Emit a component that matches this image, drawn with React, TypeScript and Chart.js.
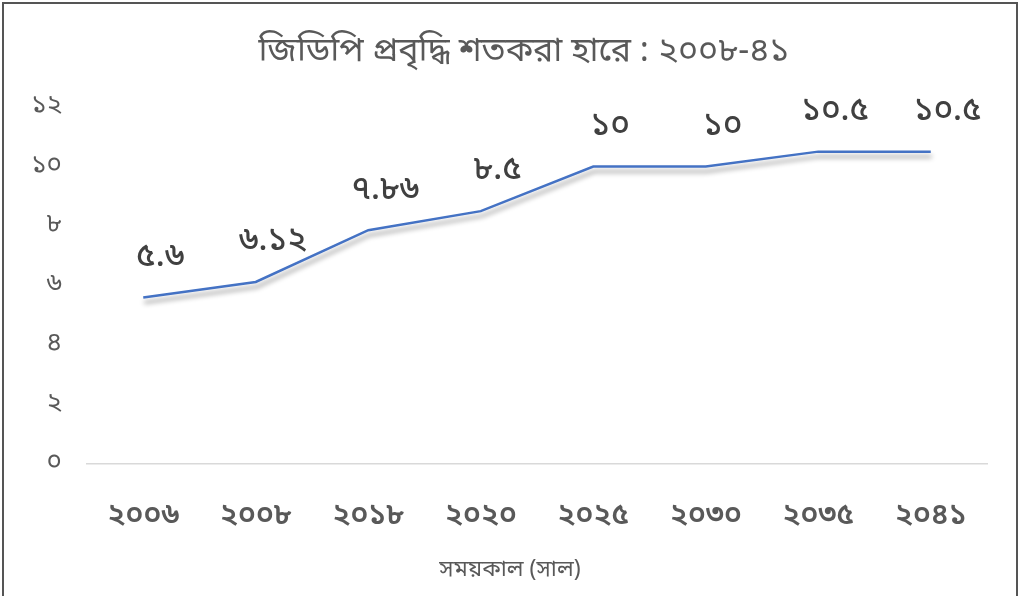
import React, { useEffect, useRef } from "react";
import { Chart, registerables } from "chart.js";

Chart.register(...registerables);

const titleText = "জিডিপি প্রবৃদ্ধি শতকরা হারে : ২০০৮-৪১";
const xAxisTitle = "সময়কাল (সাল)";
const categories = ["২০০৬", "২০০৮", "২০১৮", "২০২০", "২০২৫", "২০৩০", "২০৩৫", "২০৪১"];
const growth = [5.6, 6.12, 7.86, 8.5, 10, 10, 10.5, 10.5];
const valueLabels = ["৫.৬", "৬.১২", "৭.৮৬", "৮.৫", "১০", "১০", "১০.৫", "১০.৫"];
const yTickLabels = ["০", "২", "৪", "৬", "৮", "১০", "১২"];

const FONT = '"Noto Sans Bengali", "Noto Serif Bengali", "Lohit Bengali", "Noto Sans", sans-serif';

const shadowPlugin = {
  id: "lineShadow",
  beforeDatasetDraw(chart: any) {
    const ctx = chart.ctx;
    ctx.save();
    ctx.shadowColor = "rgba(0,0,0,0.4)";
    ctx.shadowBlur = 5;
    ctx.shadowOffsetX = 1;
    ctx.shadowOffsetY = 5;
  },
  afterDatasetDraw(chart: any) {
    chart.ctx.restore();
  },
};

const labelPlugin = {
  id: "valueLabels",
  afterDatasetsDraw(chart: any) {
    const ctx = chart.ctx;
    const meta = chart.getDatasetMeta(0);
    ctx.save();
    ctx.font = `500 33px ${FONT}`;
    ctx.fillStyle = "#404040";
    ctx.textAlign = "center";
    ctx.textBaseline = "middle";
    meta.data.forEach((pt: any, i: number) => {
      ctx.fillText(valueLabels[i], pt.x + 17, pt.y - 38);
    });
    ctx.restore();
  },
};

const titlesPlugin = {
  id: "titles",
  afterDraw(chart: any) {
    const ctx = chart.ctx;
    const w = chart.width;
    ctx.save();
    ctx.fillStyle = "#595959";
    ctx.textAlign = "center";
    ctx.textBaseline = "middle";
    ctx.font = `normal 34px ${FONT}`;
    ctx.fillText(titleText, w / 2 + 14, 50);
    ctx.font = `normal 23px ${FONT}`;
    ctx.fillText(xAxisTitle, w / 2, chart.chartArea.bottom + 108);
    ctx.restore();
  },
};

export default function App() {
  const ref = useRef<HTMLCanvasElement>(null);
  useEffect(() => {
    if (!ref.current) return;
    const chart = new Chart(ref.current, {
      type: "line",
      data: {
        labels: categories,
        datasets: [
          {
            data: growth,
            borderColor: "#4472C4",
            borderWidth: 2.5,
            pointRadius: 0,
            tension: 0,
            fill: false,
          },
        ],
      },
      options: {
        animation: false,
        responsive: false,
        layout: { padding: { left: 0, right: 29, top: 103, bottom: 0 } },
        plugins: {
          legend: { display: false },
          tooltip: { enabled: false },
          title: { display: false },
        },
        scales: {
          x: {
            offset: true,
            grid: { display: false, drawTicks: false },
            border: { display: true, color: "#d9d9d9", width: 1.5 },
            afterFit(scale: any) {
              scale.height = 130;
            },
            ticks: {
              color: "#595959",
              font: { family: FONT, size: 30, weight: 600 },
              padding: 36,
              maxRotation: 0,
            },
          },
          y: {
            min: 0,
            max: 12,
            grid: { display: false, drawTicks: false },
            border: { display: false },
            afterFit(scale: any) {
              scale.width = 83;
            },
            ticks: {
              stepSize: 2,
              color: "#595959",
              font: { family: FONT, size: 26 },
              padding: 25,
              callback: (v: any) => yTickLabels[Math.round(Number(v) / 2)],
            },
          },
        },
      },
      plugins: [shadowPlugin, labelPlugin, titlesPlugin],
    });
    return () => chart.destroy();
  }, []);

  return (
    <div
      style={{
        position: "fixed",
        left: 2,
        top: 2,
        width: 1012,
        height: 600,
        border: "2px solid #555",
        background: "#fff",
        boxSizing: "content-box",
      }}
    >
      <canvas ref={ref} width={1012} height={590} style={{ display: "block" }} />
    </div>
  );
}
